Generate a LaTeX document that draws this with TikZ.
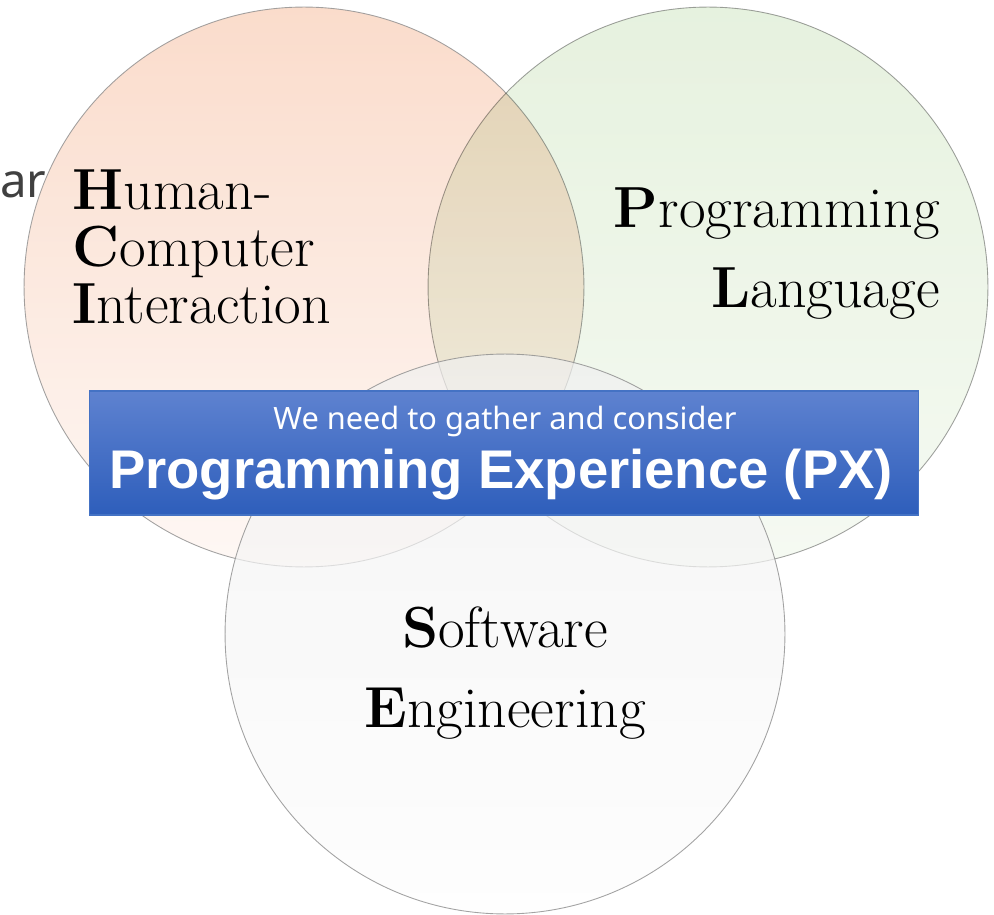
\documentclass[tikz,border=0pt]{standalone}
\usepackage{fontspec}
\newfontfamily\pxfont{Noto Sans}
\newfontfamily\titlefont{Liberation Sans}
\usetikzlibrary{positioning}
\definecolor{hcitop}{RGB}{248,208,186}
\definecolor{hcibot}{RGB}{254,245,241}
\definecolor{pltop}{RGB}{222,237,212}
\definecolor{plbot}{RGB}{242,248,238}
\definecolor{setop}{RGB}{240,240,240}
\definecolor{sebot}{RGB}{253,253,253}
\definecolor{pxtop}{RGB}{94,130,208}
\definecolor{pxbot}{RGB}{46,94,187}
\definecolor{pxline}{RGB}{68,114,196}
\definecolor{argray}{RGB}{64,64,64}

\begin{document}
\begin{tikzpicture}[x=0.02cm, y=-0.02cm,
    area/.style={circle, minimum size=11.2cm, inner sep=0pt, draw=black!45, line width=0.5pt, fill opacity=0.75, draw opacity=0.8},
    topic/.style={inner sep=0pt, text=black, font=\fontsize{33}{32.4}\selectfont},
    pxbox/.style={rectangle, minimum width=16.6cm, minimum height=2.48cm, inner sep=0pt, draw=pxline, line width=0.6pt, top color=pxtop, bottom color=pxbot}
]
    \useasboundingbox (0,0) rectangle (994,915);

    \node[inner sep=0pt, anchor=base west, text=argray, font=\pxfont\fontsize{27}{28}\selectfont] (ar) at (0,198) {ar};

    \node[area, top color=hcitop, bottom color=hcibot] (hci) at (304,287) {};
    \begin{scope}[blend mode=multiply]
        \node[area, top color=pltop, bottom color=plbot] (pl) at (708,287) {};
    \end{scope}
    \node[area, top color=setop, bottom color=sebot, fill opacity=0.7] (se) at (505,634) {};

    \node[topic, anchor=north west, align=left] (hcitext) at (72,169.5) {\textbf{H}uman-\\\textbf{C}omputer\\\textbf{I}nteraction};
    \node[topic, anchor=north east, align=right] (pltext) at (940,187.5) {\textbf{P}rogramming\\[13pt]\textbf{L}anguage};
    \node[topic, anchor=north, align=center] (setext) at (505,606.7) {\textbf{S}oftware\\[13pt]\textbf{E}ngineering};

    \node[pxbox] (px) at (504,453) {};
    \node[inner sep=0pt, anchor=base, text=white, font=\pxfont\fontsize{17.5}{18}\selectfont] (pxsub) at (505,430) {We need to gather and consider};
    \node[inner sep=0pt, anchor=base, text=white, font=\titlefont\bfseries\fontsize{31}{33}\selectfont] (pxtitle) at (501,488) {Programming Experience (PX)};
\end{tikzpicture}
\end{document}
